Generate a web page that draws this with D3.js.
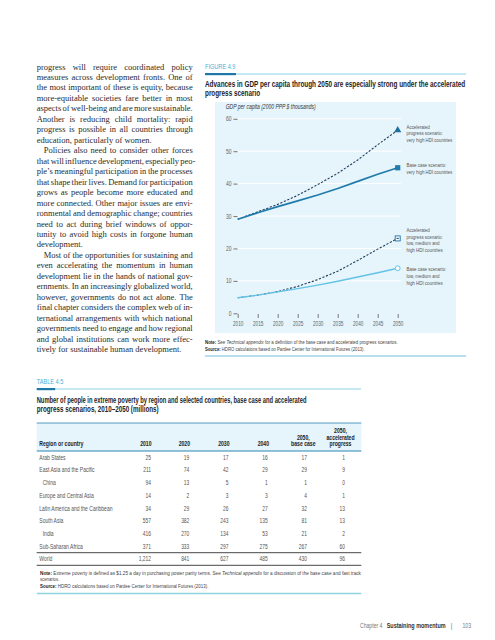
<!DOCTYPE html>
<html><head><meta charset="utf-8">
<script src="https://cdn.jsdelivr.net/npm/d3@7/dist/d3.min.js"></script>
<style>body{margin:0;background:#fff}svg{display:block}</style>
</head><body>
<script>
// ---------- DATA ----------
const years = [2010, 2015, 2020, 2025, 2030, 2035, 2040, 2045, 2050];
const accelVeryHigh = [29.0, 31.3, 33.6, 36.4, 39.7, 43.2, 47.3, 52.0, 56.5];
const baseVeryHigh  = [29.0, 31.0, 32.9, 34.7, 36.5, 38.5, 40.7, 42.9, 44.9];
const accelLow      = [4.8, 5.6, 6.7, 8.3, 10.4, 13.0, 16.3, 19.8, 23.1];
const baseLow       = [4.8, 5.6, 6.6, 7.6, 8.7, 9.9, 11.2, 12.5, 13.9];
const yTicks = [0, 10, 20, 30, 40, 50, 60];

const regions = ["Arab States", "East Asia and the Pacific", "China", "Europe and Central Asia",
  "Latin America and the Caribbean", "South Asia", "India", "Sub-Saharan Africa", "World"];
const indented = ["China", "India"];
const pov2010 = ["25", "211", "94", "14", "34", "557", "416", "371", "1,212"];
const pov2020 = ["19", "74", "13", "2", "29", "382", "270", "333", "841"];
const pov2030 = ["17", "42", "5", "3", "26", "243", "134", "297", "627"];
const pov2040 = ["16", "29", "1", "3", "27", "135", "53", "275", "485"];
const pov2050Base = ["17", "29", "1", "4", "32", "81", "21", "267", "430"];
const pov2050Accel = ["1", "9", "0", "1", "13", "13", "2", "60", "96"];

const bodyLines = [
  ["progress will require coordinated policy", 0, true],
  ["measures across development fronts. One of", 0, true],
  ["the most important of these is equity, because", 0, true],
  ["more-equitable societies fare better in most", 0, true],
  ["aspects of well-being and are more sustainable.", 0, true],
  ["Another is reducing child mortality: rapid", 0, true],
  ["progress is possible in all countries through", 0, true],
  ["education, particularly of women.", 0, false],
  ["Policies also need to consider other forces", 7, true],
  ["that will influence development, especially peo-", 0, true],
  ["ple\u2019s meaningful participation in the processes", 0, true],
  ["that shape their lives. Demand for participation", 0, true],
  ["grows as people become more educated and", 0, true],
  ["more connected. Other major issues are envi-", 0, true],
  ["ronmental and demographic change; countries", 0, true],
  ["need to act during brief windows of oppor-", 0, true],
  ["tunity to avoid high costs in forgone human", 0, true],
  ["development.", 0, false],
  ["Most of the opportunities for sustaining and", 7, true],
  ["even accelerating the momentum in human", 0, true],
  ["development lie in the hands of national gov-", 0, true],
  ["ernments. In an increasingly globalized world,", 0, true],
  ["however, governments do not act alone. The", 0, true],
  ["final chapter considers the complex web of in-", 0, true],
  ["ternational arrangements with which national", 0, true],
  ["governments need to engage and how regional", 0, true],
  ["and global institutions can work more effec-", 0, true],
  ["tively for sustainable human development.", 0, false]
];

// ---------- SETUP ----------
const SANS = '"Liberation Sans","Arial",sans-serif';
const SERIF = '"Liberation Serif","Times New Roman",serif';
const svg = d3.select("body").append("svg").attr("width", 495).attr("height", 640)
  .style("background", "#fff");

// sans text in a horizontally condensed group (scale k) — or fitted to a width
function st(x, y, str, o = {}) {
  const g = svg.append("g");
  const t = g.append("text").attr("text-anchor", o.anchor || "start")
    .style("font-family", SANS).style("font-size", (o.size || 6.3) + "px")
    .style("font-weight", o.weight || "normal").style("font-style", o.italic ? "italic" : "normal")
    .attr("fill", o.fill || "#555");
  if (Array.isArray(str)) {
    str.forEach(p => t.append("tspan").text(p.t).style("font-weight", p.b ? "bold" : null)
      .style("font-style", p.i ? "italic" : null).attr("fill", p.fill || null));
  } else t.text(str);
  let k = o.k || 0.8;
  if (o.width) k = o.width / t.node().getComputedTextLength();
  g.attr("transform", `translate(${x},${y}) scale(${k},1)`);
  return t;
}

// ---------- BODY TEXT ----------
const bx0 = 36.7, bx1 = 192.7, by0 = 69.5, blh = 10.47, bsize = 8.5;
bodyLines.forEach(([t, ind, just], i) => {
  const tx = svg.append("text").attr("y", by0 + i * blh).attr("x", bx0 + ind)
    .style("font-family", SERIF).style("font-size", bsize + "px").attr("fill", "#2b2b2b").text(t);
  const avail = bx1 - bx0 - ind;
  if (!just) return;
  const words = t.split(" ");
  tx.text(null);
  const spans = words.map(w => tx.append("tspan").text(w));
  const widths = spans.map(s => s.node().getComputedTextLength());
  const total = d3.sum(widths);
  const gap = Math.max(1.2, (avail - total) / (words.length - 1));
  let cx = bx0 + ind;
  spans.forEach((s, k) => { s.attr("x", cx); cx += widths[k] + gap; });
});

// ---------- FIGURE HEADER ----------
st(205, 68.5, "FIGURE 4.9", { size: 7, fill: "#3fb0da", k: 0.8 });
svg.append("line").attr("x1", 236).attr("x2", 466).attr("y1", 74).attr("y2", 74)
  .attr("stroke", "#8fd2e6").attr("stroke-width", 1);
svg.append("rect").attr("x", 205).attr("y", 73).attr("width", 31).attr("height", 2.2).attr("fill", "#1f78aa");
st(205, 87, "Advances in GDP per capita through 2050 are especially strong under the accelerated",
  { size: 8.4, fill: "#1e1e1e", weight: "bold", width: 260 });
st(205, 95.6, "progress scenario", { size: 8.4, fill: "#1e1e1e", weight: "bold", width: 55 });

// ---------- CHART ----------
const x = d3.scaleLinear().domain([2010, 2050]).range([237.7, 397.7]);
const y = d3.scaleLinear().domain([0, 60]).range([313.3, 118.8]);

svg.append("rect").attr("x", 215).attr("y", 102).attr("width", 241).attr("height", 231).attr("fill", "#e6f4fb");

svg.append("g").selectAll("line").data(yTicks.filter(d => d > 0)).join("line")
  .attr("x1", 237.7).attr("x2", 401).attr("y1", d => y(d)).attr("y2", d => y(d))
  .attr("stroke", "#fff").attr("stroke-width", 1);

st(225.7, 109.3, "GDP per capita (2000 PPP $ thousands)", { size: 6.3, fill: "#333", italic: true, width: 90 });

const ky = 0.8, kx = 0.74;
const yAxis = svg.append("g").attr("transform", "translate(237.5,0)")
  .call(d3.axisLeft(y).tickValues(yTicks).tickSize(4).tickPadding(2));
yAxis.select(".domain").remove();
yAxis.selectAll("line").attr("stroke", "#777");
yAxis.selectAll("text").attr("x", -6 / ky).attr("transform", `scale(${ky},1)`)
  .style("font-family", SANS).style("font-size", "6.3px").attr("fill", "#666");

const xAxis = svg.append("g").attr("transform", "translate(0,314)")
  .call(d3.axisBottom(x).tickValues(years).tickFormat(d3.format("d")).tickSize(4).tickPadding(4));
xAxis.select(".domain").remove();
xAxis.selectAll("line").attr("stroke", "#777");
xAxis.selectAll("text").attr("transform", `scale(${kx},1)`)
  .style("font-family", SANS).style("font-size", "6.3px").attr("fill", "#666");

const line = d3.line().x((d, i) => x(years[i])).y(d => y(d));
svg.append("path").datum(accelVeryHigh).attr("d", line).attr("fill", "none")
  .attr("stroke", "#1d3d5c").attr("stroke-width", 1.1).attr("stroke-dasharray", "2.2,1.6");
svg.append("path").datum(baseVeryHigh).attr("d", line).attr("fill", "none")
  .attr("stroke", "#1f7bab").attr("stroke-width", 1.7);
svg.append("path").datum(accelLow).attr("d", line).attr("fill", "none")
  .attr("stroke", "#1d3d5c").attr("stroke-width", 1.1).attr("stroke-dasharray", "2.2,1.6");
svg.append("path").datum(baseLow).attr("d", line).attr("fill", "none")
  .attr("stroke", "#62c3e7").attr("stroke-width", 1.4);

const xe = x(2050);
svg.append("path").attr("d", d3.symbol(d3.symbolTriangle, 22)())
  .attr("transform", `translate(${xe},${y(accelVeryHigh[8])})`).attr("fill", "#1f6f9c");
svg.append("rect").attr("x", xe - 2.6).attr("y", y(baseVeryHigh[8]) - 2.6).attr("width", 5.2).attr("height", 5.2)
  .attr("fill", "#1f7bab");
svg.append("rect").attr("x", xe - 2.5).attr("y", y(accelLow[8]) - 2.5).attr("width", 5).attr("height", 5)
  .attr("fill", "#fff").attr("stroke", "#1f6f9c").attr("stroke-width", 0.9);
svg.append("rect").attr("x", xe - 1.2).attr("y", y(accelLow[8]) - 0.6).attr("width", 2.4).attr("height", 1.2)
  .attr("fill", "#1f6f9c");
svg.append("circle").attr("cx", xe).attr("cy", y(baseLow[8])).attr("r", 2.4)
  .attr("fill", "#fff").attr("stroke", "#62c3e7").attr("stroke-width", 1);

const seriesLabels = [
  [y(accelVeryHigh[8]) - 3.5, ["Accelerated", "progress scenario:", "very high HDI countries"]],
  [y(baseVeryHigh[8]) - 2.5, ["Base case scenario:", "very high HDI countries"]],
  [y(accelLow[8]) - 8.5, ["Accelerated", "progress scenario:", "low, medium and", "high HDI countries"]],
  [y(baseLow[8]) + 0.9, ["Base case scenario:", "low, medium and", "high HDI countries"]]
];
seriesLabels.forEach(([yy, ls]) => {
  ls.forEach((t, i) => st(406.5, yy + 2 + i * 6.7, t, { size: 5.8, fill: "#555", k: 0.76 }));
});

// figure notes
st(205, 343.6, [{ t: "Note: ", b: 1, fill: "#222" }, { t: "See " }, { t: "Technical appendix", i: 1 },
  { t: " for a definition of the base case and accelerated progress scenarios." }],
  { size: 5.4, fill: "#444", width: 193 });
st(205, 351, [{ t: "Source: ", b: 1, fill: "#222" },
  { t: "HDRO calculations based on Pardee Center for International Futures (2013)." }],
  { size: 5.4, fill: "#444", width: 160 });
svg.append("line").attr("x1", 205).attr("x2", 466).attr("y1", 356).attr("y2", 356)
  .attr("stroke", "#6cc0dc").attr("stroke-width", 1);

// ---------- TABLE ----------
st(36.7, 383.5, "TABLE 4.5", { size: 7, fill: "#3fb0da", k: 0.8 });
svg.append("line").attr("x1", 55).attr("x2", 361).attr("y1", 389).attr("y2", 389)
  .attr("stroke", "#8fd2e6").attr("stroke-width", 1);
svg.append("rect").attr("x", 36.7).attr("y", 388).attr("width", 18.5).attr("height", 2.2).attr("fill", "#1f78aa");
st(36.7, 403, "Number of people in extreme poverty by region and selected countries, base case and accelerated",
  { size: 8.2, fill: "#1e1e1e", weight: "bold", width: 270 });
st(36.7, 411.8, "progress scenarios, 2010\u20132050 (millions)",
  { size: 8.2, fill: "#1e1e1e", weight: "bold", width: 122 });

svg.append("rect").attr("x", 36.7).attr("y", 423).attr("width", 324.6).attr("height", 28).attr("fill", "#e6f4fb");
svg.append("line").attr("x1", 36.7).attr("x2", 361.3).attr("y1", 423).attr("y2", 423)
  .attr("stroke", "#2a86b3").attr("stroke-width", 0.8);
svg.append("line").attr("x1", 36.7).attr("x2", 361.3).attr("y1", 451).attr("y2", 451)
  .attr("stroke", "#2a86b3").attr("stroke-width", 1.1);

const hOpt = a => ({ size: 6.4, fill: "#222", weight: "bold", k: 0.8, anchor: a });
st(39.3, 446.2, "Region or country", hOpt("start"));
const colRight = [151.5, 190, 229.5, 269];
["2010", "2020", "2030", "2040"].forEach((h, i) => st(colRight[i], 446.2, h, hOpt("end")));
["2050,", "base case"].forEach((t, i) => st(303.3, 439.5 + i * 6.7, t, hOpt("middle")));
["2050,", "accelerated", "progress"].forEach((t, i) => st(340.5, 432.8 + i * 6.7, t, hOpt("middle")));

const rowY = i => 459.6 + i * 12.73;
const numCols = [pov2010, pov2020, pov2030, pov2040, pov2050Base, pov2050Accel];
const numRight = [151, 189.3, 228.5, 267.7, 307, 345];
regions.forEach((r, i) => {
  st(indented.includes(r) ? 42.7 : 39.3, rowY(i), r, { size: 6.3, fill: "#555", k: 0.8 });
  numCols.forEach((col, c) => st(numRight[c], rowY(i), col[i], { size: 6.3, fill: "#555", k: 0.78, anchor: "end" }));
});
svg.append("line").attr("x1", 36.7).attr("x2", 361.3).attr("y1", 552.7).attr("y2", 552.7)
  .attr("stroke", "#333").attr("stroke-width", 0.9);
svg.append("line").attr("x1", 36.7).attr("x2", 361.3).attr("y1", 565.3).attr("y2", 565.3)
  .attr("stroke", "#333").attr("stroke-width", 0.9);

st(40, 574.5, [{ t: "Note: ", b: 1, fill: "#222" },
  { t: "Extreme poverty is defined as $1.25 a day in purchasing power parity terms. See " },
  { t: "Technical appendix", i: 1 }, { t: " for a discussion of the base case and fast track" }],
  { size: 5.3, fill: "#444", width: 321 });
st(40, 581.4, "scenarios.", { size: 5.3, fill: "#444", k: 0.8 });
st(40, 588.2, [{ t: "Source: ", b: 1, fill: "#222" },
  { t: "HDRO calculations based on Pardee Center for International Futures (2013)." }],
  { size: 5.3, fill: "#444", width: 169 });
svg.append("line").attr("x1", 36.7).attr("x2", 361.3).attr("y1", 593.5).attr("y2", 593.5)
  .attr("stroke", "#8fd2e0").attr("stroke-width", 1.5);

// ---------- FOOTER ----------
st(360, 628, "Chapter 4", { size: 6.4, fill: "#777", k: 0.8 });
st(386.7, 628, "Sustaining momentum", { size: 6.4, fill: "#333", weight: "bold", width: 59 });
st(450.7, 628, "|", { size: 6.4, fill: "#777", k: 1 });
st(462.5, 628, "103", { size: 6.4, fill: "#777", k: 0.8 });
</script>
</body></html>
